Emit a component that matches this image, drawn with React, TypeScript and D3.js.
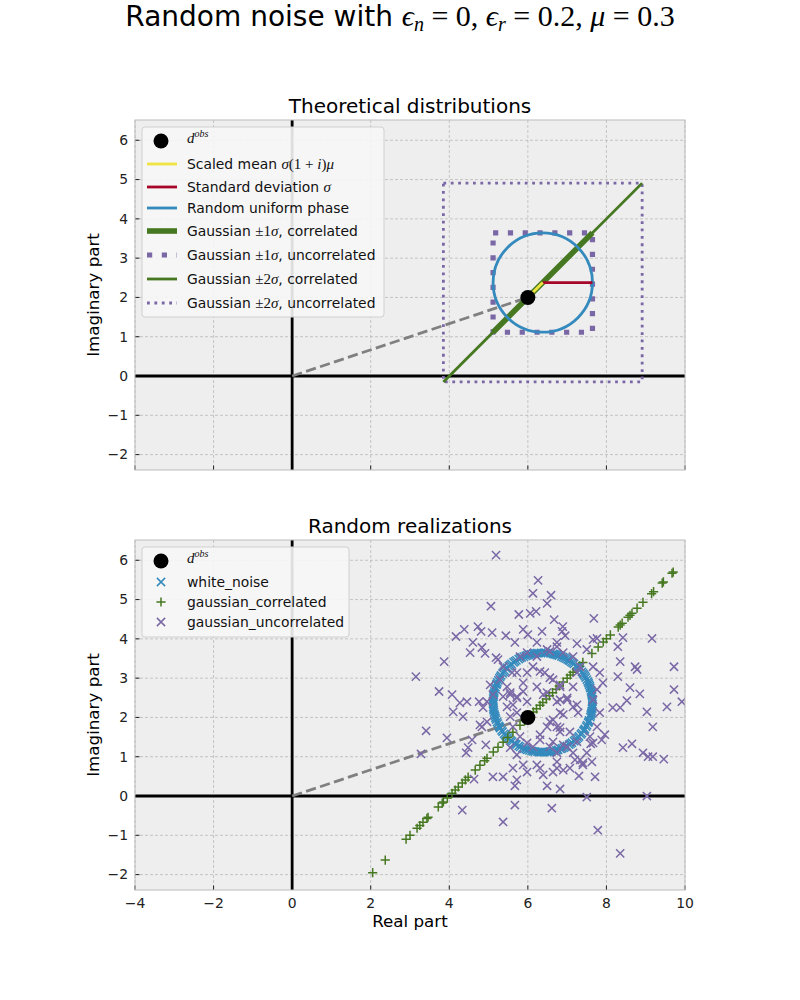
import React from "react";
import * as d3 from "d3";

// observed datum and noise parameters
const dObs: [number, number] = [6, 2];
const epsN = 0;
const epsR = 0.2;
const mu = 0.3;

const xTicks = [-4, -2, 0, 2, 4, 6, 8, 10];
const yTicks = [-2, -1, 0, 1, 2, 3, 4, 5, 6];

// white noise: random uniform phase (degrees) on the sigma circle
const whiteNoisePhase = [
  1, 4, 9, 12, 14, 19, 23, 25, 30, 34, 36, 41, 45, 48, 51, 55, 60, 62, 66, 71,
  73, 78, 81, 84, 89, 92, 95, 99, 104, 106, 110, 115, 117, 122, 126, 129, 133,
  137, 140, 144, 149, 151, 156, 159, 162, 167, 171, 173, 178, 182, 185, 189,
  194, 196, 200, 205, 208, 211, 216, 219, 223, 227, 230, 235, 238, 241, 246,
  250, 252, 257, 261, 264, 268, 272, 275, 280, 283, 286, 291, 295, 297, 302,
  306, 309, 313, 317, 320, 325, 328, 331, 336, 339, 343, 347, 350, 354, 358,
  2.5, 7, 10.5, 17, 21, 27.5, 32, 38, 43, 46.5, 53, 57, 58.5, 64, 68, 75,
  76.5, 86, 87.5, 97, 101, 108, 112.5, 119, 124, 131, 135.5, 142, 147, 153.5,
  158, 164, 169, 175.5, 180, 187, 191.5, 198, 203, 209.5, 214, 221, 225,
  232, 236.5, 243, 248, 254.5, 259, 266, 270, 277, 278.5, 288, 293, 299,
  304, 311, 315, 322, 326.5, 333, 337.5, 345, 348, 352.5, 356.5,
];

// gaussian noise, correlated real / imaginary parts
const gaussCorrelated: [number, number][] = [
  [2.05, -1.95], [2.37, -1.63], [2.9, -1.1], [3.0, -1.0], [3.18, -0.82],
  [3.25, -0.75], [3.33, -0.67], [3.43, -0.57], [3.46, -0.54], [3.72, -0.28],
  [3.82, -0.18], [3.85, -0.15], [3.95, -0.05], [4.07, 0.07], [4.15, 0.15],
  [4.23, 0.23], [4.33, 0.33], [4.41, 0.41], [4.48, 0.48], [4.66, 0.66],
  [4.78, 0.78], [4.9, 0.9], [4.96, 0.96], [5.12, 1.12], [5.24, 1.24],
  [5.37, 1.37], [5.49, 1.49], [5.62, 1.62], [5.8, 1.8], [5.92, 1.92],
  [6.05, 2.05], [6.14, 2.14], [6.22, 2.22], [6.31, 2.31], [6.38, 2.38],
  [6.47, 2.47], [6.55, 2.55], [6.63, 2.63], [6.72, 2.72], [6.8, 2.8],
  [6.9, 2.9], [7.0, 3.0], [7.08, 3.08], [7.15, 3.15], [7.4, 3.4],
  [7.63, 3.63], [7.79, 3.79], [7.92, 3.92], [8.0, 4.0], [8.1, 4.1],
  [8.3, 4.3], [8.35, 4.35], [8.4, 4.4], [8.55, 4.55], [8.6, 4.6],
  [8.65, 4.65], [8.78, 4.78], [8.93, 4.93], [9.15, 5.15], [9.2, 5.2],
  [9.42, 5.42], [9.45, 5.45], [9.67, 5.67], [9.7, 5.7],
];

// gaussian noise, uncorrelated real / imaginary parts
const gaussUncorrelated: [number, number][] = [
  [5.19, 6.13], [6.26, 5.49], [6.13, 5.16], [6.59, 5.11], [6.49, 4.9],
  [5.06, 4.83], [5.77, 4.62], [6.06, 4.65], [6.21, 4.7], [6.67, 4.49],
  [7.68, 4.52], [4.17, 4.06], [4.38, 4.24], [4.73, 4.31], [4.81, 4.19],
  [5.09, 4.16], [5.44, 4.08], [5.67, 3.91], [5.88, 4.24], [6.0, 4.11],
  [6.36, 4.19], [6.89, 4.31], [6.87, 4.19], [6.95, 4.08], [9.16, 4.01],
  [8.42, 4.03], [7.66, 3.98], [7.76, 4.01], [8.29, 3.8], [7.25, 3.88],
  [4.53, 3.65], [4.83, 3.78], [4.6, 3.91], [4.91, 3.63], [3.87, 3.42],
  [3.15, 3.04], [5.19, 3.52], [8.35, 3.42], [8.73, 3.29], [8.78, 3.22],
  [9.72, 3.29], [8.29, 3.04], [8.6, 2.76], [8.85, 2.6], [9.72, 2.71],
  [9.92, 2.4], [3.74, 2.66], [4.07, 2.58], [4.27, 2.37], [4.45, 2.4],
  [4.1, 2.14], [4.35, 2.02], [4.76, 2.4], [9.54, 2.27], [9.03, 2.14],
  [8.52, 2.43], [8.16, 2.25], [8.35, 2.25], [9.18, 1.76], [3.41, 1.66],
  [3.94, 1.48], [3.28, 1.07], [4.48, 1.23], [4.58, 1.43], [4.43, 1.1],
  [4.93, 1.3], [8.42, 1.23], [8.65, 1.33], [8.93, 1.1], [9.06, 1.0],
  [9.18, 1.0], [9.46, 0.94], [5.11, 0.49], [5.37, 0.49], [5.67, 0.26],
  [6.49, 0.26], [6.82, 0.18], [7.3, 0.51], [7.71, 0.49], [9.03, 0.0],
  [7.5, -0.03], [4.63, 0.43], [4.33, -0.36], [5.37, -0.66], [5.67, -0.23],
  [6.61, -0.31], [7.78, -0.87], [8.35, -1.46], [6.9, 0.66], [6.74, 0.71],
  [7.96, 1.56], [7.88, 1.43], [7.6, 1.33], [6.64, 0.61], [6.31, 0.71],
  [7.63, 0.87], [7.4, 0.84], [7.2, 0.92], [4.78, 1.81], [4.96, 1.89],
  [4.83, 1.76], [5.72, 0.41], [6.74, 3.8], [6.56, 3.68], [6.23, 3.91],
  [5.24, 3.47], [5.37, 3.29], [5.6, 3.14], [5.29, 2.96], [5.55, 2.63],
  [5.72, 2.53], [5.88, 2.88], [5.98, 3.14], [6.13, 3.29], [6.23, 2.78],
  [6.43, 3.14], [6.49, 2.63], [6.64, 2.96], [6.82, 2.78], [6.82, 2.45],
  [7.0, 2.45], [7.15, 2.27], [7.28, 2.12], [6.82, 2.12], [6.64, 1.94],
  [6.49, 1.76], [6.74, 1.76], [6.82, 1.63], [7.15, 2.78], [7.25, 3.14],
  [7.33, 3.29], [7.15, 3.55], [6.9, 3.65], [6.74, 3.91], [6.49, 3.73],
  [6.23, 3.55], [5.98, 3.65], [5.8, 3.55], [5.72, 3.14], [5.47, 2.78],
  [5.37, 2.53], [5.47, 2.27], [5.55, 2.02], [5.72, 2.12], [5.62, 1.76],
  [5.8, 1.51], [5.98, 1.35], [6.13, 1.25], [6.31, 1.43], [6.56, 1.25],
  [6.74, 1.1], [7.0, 1.25], [7.15, 1.1], [7.33, 0.92], [7.5, 1.1],
  [7.66, 1.35], [7.58, 1.51], [7.76, 1.76], [7.83, 2.12], [7.66, 2.45],
  [7.76, 2.71], [7.91, 2.88], [7.83, 3.14], [7.66, 3.29], [7.5, 3.73],
  [5.04, 2.83], [5.11, 2.58], [4.96, 2.4], [4.86, 2.25], [5.55, 2.58],
  [5.72, 2.5], [5.62, 2.32], [5.88, 2.66], [5.98, 2.4], [5.55, 1.23],
  [5.72, 1.05], [5.88, 0.79], [5.62, 0.71], [5.98, 0.61], [6.31, 3.17],
  [6.56, 3.01], [6.82, 2.83], [6.39, 2.58], [6.74, 2.4], [7.0, 2.5],
  [7.25, 2.32], [6.9, 2.07], [6.56, 1.89], [6.82, 1.74], [7.07, 1.63],
  [6.31, 1.56], [6.64, 1.38], [7.25, 1.38], [6.9, 1.3], [6.23, 0.79],
  [6.74, 0.87], [7.07, 0.71], [7.4, 0.79], [6.39, 0.54],
];

const BLUE = "#348ABD";
const RED = "#A60628";
const PURPLE = "#7A68A6";
const GREEN = "#467821";
const YELLOW = "#F0E442";
const SANS = "'DejaVu Sans', sans-serif";
const MATH = "'Liberation Serif', 'DejaVu Serif', serif";

const W = 800;
const H = 1000;
const LEFT = 135;
const RIGHT = 685;
const PANEL_H = 350;
const TOPS = [120, 540];

const x = d3.scaleLinear().domain([-4, 10]).range([LEFT, RIGHT]);
const yFor = (top: number) =>
  d3.scaleLinear().domain([-2.392, 6.516]).range([top + PANEL_H, top]);

const sigma = Math.hypot(dObs[0], dObs[1]) * epsR;
const mean: [number, number] = [dObs[0] + sigma * mu, dObs[1] + sigma * mu];

const fmt = (v: number) => (v < 0 ? `\u2212${-v}` : `${v}`);

const XMark = ({ cx, cy, color, r = 4.1 }: any) => (
  <path
    d={`M${cx - r},${cy - r}L${cx + r},${cy + r}M${cx - r},${cy + r}L${cx + r},${cy - r}`}
    stroke={color}
    strokeWidth={1.5}
    fill="none"
  />
);

const PlusMark = ({ cx, cy, color, r = 4.6 }: any) => (
  <path
    d={`M${cx - r},${cy}L${cx + r},${cy}M${cx},${cy - r}L${cx},${cy + r}`}
    stroke={color}
    strokeWidth={1.5}
    fill="none"
  />
);

const Dobs = () => (
  <>
    <tspan fontFamily={MATH} fontStyle="italic">d</tspan>
    <tspan fontFamily={MATH} fontStyle="italic" fontSize={10} dy={-6}>obs</tspan>
  </>
);

const Sig = ({ t }: { t: string }) => (
  <tspan fontFamily={MATH} fontSize={15}>
    {t}
    <tspan fontStyle="italic">σ</tspan>
  </tspan>
);

function Frame({ top, title, showX }: { top: number; title: string; showX: boolean }) {
  const y = yFor(top);
  return (
    <g>
      <rect x={LEFT} y={top} width={RIGHT - LEFT} height={PANEL_H} fill="#eeeeee" />
      {xTicks.map((t) => (
        <line key={"gx" + t} x1={x(t)} x2={x(t)} y1={top} y2={top + PANEL_H}
          stroke="#b2b2b2" strokeWidth={0.7} strokeDasharray="3,2" />
      ))}
      {yTicks.map((t) => (
        <line key={"gy" + t} x1={LEFT} x2={RIGHT} y1={y(t)} y2={y(t)}
          stroke="#b2b2b2" strokeWidth={0.7} strokeDasharray="3,2" />
      ))}
      <text x={(LEFT + RIGHT) / 2} y={top - 7} textAnchor="middle" fontFamily={SANS} fontSize={20}>
        {title}
      </text>
      {yTicks.map((t) => (
        <g key={"ty" + t}>
          <line x1={LEFT} x2={LEFT + 4.5} y1={y(t)} y2={y(t)} stroke="#222" strokeWidth={1} />
          <text x={LEFT - 7} y={y(t)} dy="0.35em" textAnchor="end" fontFamily={SANS} fontSize={13.9} fill="#222">
            {fmt(t)}
          </text>
        </g>
      ))}
      {xTicks.map((t) => (
        <g key={"tx" + t}>
          <line x1={x(t)} x2={x(t)} y1={top + PANEL_H} y2={top + PANEL_H - 4.5} stroke="#222" strokeWidth={1} />
          {showX && (
            <text x={x(t)} y={top + PANEL_H + 18} textAnchor="middle" fontFamily={SANS} fontSize={13.9} fill="#222">
              {fmt(t)}
            </text>
          )}
        </g>
      ))}
      <text transform={`translate(${LEFT - 36},${top + PANEL_H / 2}) rotate(-90)`} textAnchor="middle"
        fontFamily={SANS} fontSize={16.7}>
        Imaginary part
      </text>
      {showX && (
        <text x={(LEFT + RIGHT) / 2} y={top + PANEL_H + 37} textAnchor="middle" fontFamily={SANS} fontSize={16.7}>
          Real part
        </text>
      )}
    </g>
  );
}

function AxesLines({ top }: { top: number }) {
  const y = yFor(top);
  return (
    <>
      <line x1={LEFT} x2={RIGHT} y1={y(0)} y2={y(0)} stroke="#000" strokeWidth={2.8} />
      <line x1={x(0)} x2={x(0)} y1={top} y2={top + PANEL_H} stroke="#000" strokeWidth={2.8} />
      <line x1={x(0)} y1={y(0)} x2={x(dObs[0])} y2={y(dObs[1])} stroke="#808080"
        strokeWidth={2.8} strokeDasharray="10.3,4.4" />
    </>
  );
}

function TheoryPanel() {
  const top = TOPS[0];
  const y = yFor(top);
  const box = (k: number) => {
    const x0 = x(mean[0] - k * sigma), x1 = x(mean[0] + k * sigma);
    const y0 = y(mean[1] + k * sigma), y1 = y(mean[1] - k * sigma);
    return `M${x0},${y0}L${x1},${y0}L${x1},${y1}L${x0},${y1}Z`;
  };
  const diag = (k: number) => ({
    x1: x(mean[0] - k * sigma), y1: y(mean[1] - k * sigma),
    x2: x(mean[0] + k * sigma), y2: y(mean[1] + k * sigma),
  });
  const rows = [141, 164, 187, 208, 231, 255, 279, 303];
  const hx0 = 147, hx1 = 177, tx = 187;
  return (
    <g>
      <Frame top={top} title="Theoretical distributions" showX={false} />
      <clipPath id="clipTop"><rect x={LEFT} y={top} width={RIGHT - LEFT} height={PANEL_H} /></clipPath>
      <g clipPath="url(#clipTop)">
        <AxesLines top={top} />
        <path d={box(2)} fill="none" stroke={PURPLE} strokeWidth={2.8} strokeDasharray="2.8,4.6" />
        <path d={box(1)} fill="none" stroke={PURPLE} strokeWidth={5.2} strokeDasharray="5.2,9.6" />
        <line {...diag(2)} stroke={GREEN} strokeWidth={2.8} />
        <line {...diag(1)} stroke={GREEN} strokeWidth={5.6} />
        <circle cx={x(mean[0])} cy={y(mean[1])} r={x(sigma) - x(0)} fill="none" stroke={BLUE} strokeWidth={2.8} />
        <line x1={x(mean[0])} y1={y(mean[1])} x2={x(mean[0] + sigma)} y2={y(mean[1])} stroke={RED} strokeWidth={2.8} />
        <line x1={x(dObs[0])} y1={y(dObs[1])} x2={x(mean[0])} y2={y(mean[1])} stroke={YELLOW} strokeWidth={2.8} />
        <circle cx={x(dObs[0])} cy={y(dObs[1])} r={7.5} fill="#000" />
      </g>
      <rect x={LEFT} y={top} width={RIGHT - LEFT} height={PANEL_H} fill="none" stroke="#bcbcbc" strokeWidth={1} />

      <rect x={142} y={127} width={242} height={190} rx={3} fill="#f6f6f6" fillOpacity={0.9} stroke="#d0d0d0" />
      <circle cx={161} cy={rows[0]} r={7.5} fill="#000" />
      <line x1={hx0} x2={hx1} y1={rows[1]} y2={rows[1]} stroke={YELLOW} strokeWidth={2.8} />
      <line x1={hx0} x2={hx1} y1={rows[2]} y2={rows[2]} stroke={RED} strokeWidth={2.8} />
      <line x1={hx0} x2={hx1} y1={rows[3]} y2={rows[3]} stroke={BLUE} strokeWidth={2.8} />
      <line x1={hx0} x2={hx1} y1={rows[4]} y2={rows[4]} stroke={GREEN} strokeWidth={5.6} />
      <line x1={hx0} x2={hx1} y1={rows[5]} y2={rows[5]} stroke={PURPLE} strokeWidth={5.2} strokeDasharray="5.2,9.6" />
      <line x1={hx0} x2={hx1} y1={rows[6]} y2={rows[6]} stroke={GREEN} strokeWidth={2.8} />
      <line x1={hx0} x2={hx1} y1={rows[7]} y2={rows[7]} stroke={PURPLE} strokeWidth={2.8} strokeDasharray="2.8,4.6" />
      <g fontFamily={SANS} fontSize={13.9} fill="#111">
        <text x={tx} y={rows[0] + 2} fontSize={15}><Dobs /></text>
        <text x={tx} y={rows[1] + 5}>
          Scaled mean{" "}
          <tspan fontFamily={MATH} fontSize={15}>
            <tspan fontStyle="italic">σ</tspan>(1 + <tspan fontStyle="italic">i</tspan>)<tspan fontStyle="italic">μ</tspan>
          </tspan>
        </text>
        <text x={tx} y={rows[2] + 5}>Standard deviation <Sig t="" /></text>
        <text x={tx} y={rows[3] + 5}>Random uniform phase</text>
        <text x={tx} y={rows[4] + 5}>Gaussian <Sig t="±1" />, correlated</text>
        <text x={tx} y={rows[5] + 5}>Gaussian <Sig t="±1" />, uncorrelated</text>
        <text x={tx} y={rows[6] + 5}>Gaussian <Sig t="±2" />, correlated</text>
        <text x={tx} y={rows[7] + 5}>Gaussian <Sig t="±2" />, uncorrelated</text>
      </g>
    </g>
  );
}

function RealizationPanel() {
  const top = TOPS[1];
  const y = yFor(top);
  const rows = [561, 582, 602, 622];
  const tx = 187;
  return (
    <g>
      <Frame top={top} title="Random realizations" showX={true} />
      <clipPath id="clipBottom"><rect x={LEFT} y={top} width={RIGHT - LEFT} height={PANEL_H} /></clipPath>
      <g clipPath="url(#clipBottom)">
        <AxesLines top={top} />
        {whiteNoisePhase.map((p, i) => {
          const a = (p * Math.PI) / 180;
          return (
            <XMark key={"w" + i} cx={x(mean[0] + sigma * Math.cos(a))} cy={y(mean[1] + sigma * Math.sin(a))} color={BLUE} />
          );
        })}
        {gaussCorrelated.map(([re, im], i) => (
          <PlusMark key={"c" + i} cx={x(re)} cy={y(im)} color={GREEN} />
        ))}
        {gaussUncorrelated.map(([re, im], i) => (
          <XMark key={"u" + i} cx={x(re)} cy={y(im)} color={PURPLE} />
        ))}
        <circle cx={x(dObs[0])} cy={y(dObs[1])} r={7.5} fill="#000" />
      </g>
      <rect x={LEFT} y={top} width={RIGHT - LEFT} height={PANEL_H} fill="none" stroke="#bcbcbc" strokeWidth={1} />

      <rect x={142} y={547} width={207} height={90} rx={3} fill="#f6f6f6" fillOpacity={0.9} stroke="#d0d0d0" />
      <circle cx={161} cy={rows[0]} r={7.5} fill="#000" />
      <XMark cx={161} cy={rows[1]} color={BLUE} />
      <PlusMark cx={161} cy={rows[2]} color={GREEN} />
      <XMark cx={161} cy={rows[3]} color={PURPLE} />
      <g fontFamily={SANS} fontSize={13.9} fill="#111">
        <text x={tx} y={rows[0] + 2} fontSize={15}><Dobs /></text>
        <text x={tx} y={rows[1] + 5}>white_noise</text>
        <text x={tx} y={rows[2] + 5}>gaussian_correlated</text>
        <text x={tx} y={rows[3] + 5}>gaussian_uncorrelated</text>
      </g>
    </g>
  );
}

export default function App() {
  return (
    <div style={{ position: "absolute", left: 0, top: 0 }}>
      <svg width={W} height={H} style={{ display: "block", background: "#fff" }}>
        <text x={400} y={26} textAnchor="middle" fontSize={28} fill="#000">
          <tspan fontFamily={SANS}>Random noise with </tspan>
          <tspan fontFamily={MATH} fontSize={30}>
            <tspan fontStyle="italic">ϵ</tspan>
            <tspan fontStyle="italic" fontSize={20} dy={5}>n</tspan>
            <tspan dy={-5}> = {epsN}, </tspan>
            <tspan fontStyle="italic">ϵ</tspan>
            <tspan fontStyle="italic" fontSize={20} dy={5}>r</tspan>
            <tspan dy={-5}> = {epsR}, </tspan>
            <tspan fontStyle="italic">μ</tspan>
            <tspan> = {mu}</tspan>
          </tspan>
        </text>
        <TheoryPanel />
        <RealizationPanel />
      </svg>
    </div>
  );
}
